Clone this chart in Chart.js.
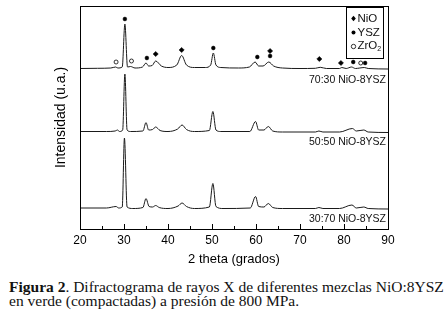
<!DOCTYPE html>
<html>
<head>
<meta charset="utf-8">
<script src="https://cdn.jsdelivr.net/npm/chart.js@4.4.1/dist/chart.umd.min.js"></script>
<style>
    body { margin: 0; background: #fff; width: 446px; height: 332px; overflow: hidden; position: relative; }
    #wrap { position: absolute; left: 0; top: 0; width: 446px; height: 270px; }
    .caption { position: absolute; left: 9px; font-family: "Liberation Serif", serif; font-size: 15.5px; line-height: 17px; color: #111; white-space: nowrap; }
</style>
</head>
<body>
<div id="wrap"><canvas id="myChart" width="446" height="270"></canvas></div>
<div class="caption" style="top:278px"><b>Figura 2</b>. Difractograma de rayos X de diferentes mezclas NiO:8YSZ</div>
<div class="caption" style="top:292px">en verde (compactadas) a presión de 800 MPa.</div>
<script>
// digitised patterns, [2theta, intensity (a.u., offset)]
var pattern7030 = [
    [20, 160.5], [24, 160.7], [27, 161], [28.1, 162], [28.6, 161], [29.6, 162], [30.2, 205], [30.8, 162],
    [31.5, 162.5], [32.5, 161], [34.2, 162], [35.0, 166], [35.6, 163], [36.4, 163.5], [37.2, 168], [38.5, 163],
    [40, 161.5], [42, 164], [43.1, 173.5], [44.2, 164], [46, 161.5], [48.5, 161.5], [49.7, 164], [50.3, 176],
    [50.9, 164], [52, 161.5], [56, 161], [58.5, 162], [59.8, 167], [60.6, 163], [61.6, 163], [62.9, 167],
    [64, 163], [66, 161], [70, 160.5], [73.5, 160.7], [74.6, 161.7], [76, 160.5], [79, 160.5], [79.5, 161.5],
    [80.5, 160.5], [81.7, 162], [82.6, 160.5], [83.6, 161], [84.6, 161.5], [85.5, 160.5], [90, 160]
];
var pattern5050 = [
    [20, 97.5], [26, 97.5], [28, 98], [28.5, 99], [29.0, 97.5], [29.7, 99], [30.2, 155], [30.7, 99],
    [31.5, 97.5], [34.3, 98], [35.0, 106.5], [35.6, 99], [36.5, 99.5], [37.2, 102], [38.2, 98.5], [40, 97.5],
    [42.2, 100], [43.2, 104], [44.2, 99.5], [46, 97.5], [49.4, 98.5], [50.2, 117.5], [50.9, 99], [52, 97.5],
    [58.6, 97.5], [59.9, 107.5], [60.6, 99], [61.8, 99], [62.8, 102.5], [63.8, 98], [66, 97], [73.5, 97],
    [74.3, 98], [75.2, 97], [79, 97], [81.9, 100.5], [82.8, 98], [84.5, 99], [85.5, 97], [90, 96.5]
];
var pattern3070 = [
    [20, 21], [26, 21], [28.2, 22.5], [28.8, 21], [29.6, 22], [30.1, 91], [30.7, 22], [32, 20.5],
    [34.3, 21.5], [35.0, 30.5], [35.7, 22.5], [36.5, 22], [37.2, 23.5], [38, 21.5], [40, 20.5], [42.3, 23],
    [43.2, 26], [44.2, 22.5], [46, 20.5], [49.4, 22], [50.2, 45.5], [50.9, 22.5], [52.5, 20.5], [58.7, 21],
    [59.9, 32.5], [60.6, 22.5], [61.8, 22], [62.8, 25.5], [63.8, 21.5], [66, 20.5], [73.5, 20.5], [74.3, 21.5],
    [75.2, 20.5], [79, 20.5], [81.8, 24], [82.8, 21], [84.5, 22], [85.5, 20.5], [90, 20]
];

// phase markers above the 70:30 pattern
var markNiO = [[37.2, 175], [43.1, 179], [63.2, 178], [74.4, 170], [79.3, 166]];
var markYSZ = [[30.2, 210], [35.2, 171], [50.3, 181], [60.3, 172], [63.2, 173], [82.1, 167], [84.8, 166]];
var markZrO2 = [[28.2, 167], [31.7, 168], [83.8, 166]];

var seriesNames = ["70:30 NiO-8YSZ", "50:50 NiO-8YSZ", "30:70 NiO-8YSZ"];
var xTicks = [20, 30, 40, 50, 60, 70, 80, 90];

function toPts(arr) {
    return arr.map(function (p) { return { x: p[0], y: p[1] }; });
}

function lineSet(arr) {
    return {
        data: toPts(arr),
        borderColor: "#1a1a1a",
        borderWidth: 1,
        pointRadius: 0,
        showLine: true,
        fill: false,
        cubicInterpolationMode: "monotone",
        order: 2
    };
}

var markerSets = [
    { label: "NiO", data: toPts(markNiO), pointStyle: "rectRot", pointRadius: 2.6, backgroundColor: "#000", borderColor: "#000", borderWidth: 0.5, order: 1 },
    { label: "YSZ", data: toPts(markYSZ), pointStyle: "circle", pointRadius: 1.9, backgroundColor: "#000", borderColor: "#000", borderWidth: 0.5, order: 1 },
    { label: "ZrO", data: toPts(markZrO2), pointStyle: "circle", pointRadius: 2, backgroundColor: "#fff", borderColor: "#000", borderWidth: 0.8, order: 1 }
];

const framePlugin = {
    id: "frame",
    afterDraw(chart) {
        const { ctx, chartArea, scales } = chart;
        const { left, right, top, bottom } = chartArea;
        ctx.save();
        ctx.strokeStyle = "#000";
        ctx.lineWidth = 1;
        ctx.strokeRect(Math.round(left) + 0.5, Math.round(top) + 0.5, Math.round(right - left), Math.round(bottom - top));
        // inward ticks on the bottom axis
        ctx.beginPath();
        for (var v = 20; v <= 90; v += 5) {
            var px = Math.round(scales.x.getPixelForValue(v)) + 0.5;
            var len = v % 10 === 0 ? 5 : 3;
            ctx.moveTo(px, Math.round(bottom));
            ctx.lineTo(px, Math.round(bottom) - len);
        }
        ctx.stroke();

        // series labels
        ctx.fillStyle = "#111";
        ctx.font = "10.5px 'Liberation Sans', Arial, sans-serif";
        ctx.textAlign = "right";
        ctx.textBaseline = "middle";
        var labelY = [80, 142, 219];
        for (var i = 0; i < seriesNames.length; i++) {
            ctx.fillText(seriesNames[i], right - 2, labelY[i]);
        }

        // legend box
        var bx = 346.5, by = 7.5, bw = 37, bh = 51;
        ctx.strokeRect(bx, by, bw, bh);
        ctx.textAlign = "left";
        ctx.font = "11.5px 'Liberation Sans', Arial, sans-serif";
        var rows = [18.5, 32.5, 45.5];
        var mx = 353.5;
        // NiO diamond
        ctx.beginPath();
        ctx.moveTo(mx, rows[0] - 2.8); ctx.lineTo(mx + 2.3, rows[0]); ctx.lineTo(mx, rows[0] + 2.8); ctx.lineTo(mx - 2.3, rows[0]);
        ctx.closePath(); ctx.fillStyle = "#000"; ctx.fill();
        // YSZ dot
        ctx.beginPath(); ctx.arc(mx, rows[1], 2, 0, Math.PI * 2); ctx.fill();
        // ZrO2 open circle
        ctx.beginPath(); ctx.arc(mx, rows[2] + 1, 2.2, 0, Math.PI * 2); ctx.lineWidth = 0.8; ctx.stroke();
        ctx.fillStyle = "#111";
        ctx.fillText("NiO", 357.5, rows[0]);
        ctx.fillText("YSZ", 357.5, rows[1]);
        ctx.fillText("ZrO", 357.5, rows[2]);
        var w = ctx.measureText("ZrO").width;
        ctx.font = "7px 'Liberation Sans', Arial, sans-serif";
        ctx.fillText("2", 357.5 + w, rows[2] + 4);
        ctx.restore();
    }
};

const config = {
    type: "scatter",
    data: {
        datasets: [lineSet(pattern7030), lineSet(pattern5050), lineSet(pattern3070)].concat(markerSets)
    },
    options: {
        responsive: false,
        animation: false,
        layout: { padding: { top: 6, right: 58, left: 0, bottom: 0 } },
        plugins: { legend: { display: false }, tooltip: { enabled: false } },
        scales: {
            x: {
                type: "linear",
                min: 20,
                max: 90,
                afterBuildTicks: (scale) => { scale.ticks = xTicks.map((v) => ({ value: v })); },
                ticks: { padding: 4, color: "#000", font: { family: "'Liberation Sans', Arial, sans-serif", size: 12 } },
                grid: { display: false, drawTicks: false },
                border: { display: false },
                title: { display: true, text: "2 theta (grados)", color: "#000", padding: { top: 0, bottom: 3 }, font: { family: "'Liberation Sans', Arial, sans-serif", size: 13 } },
                afterFit: (scale) => { scale.height = 41; }
            },
            y: {
                min: 0,
                max: 223,
                ticks: { display: false },
                grid: { display: false, drawTicks: false },
                border: { display: false },
                title: { display: true, text: "Intensidad (u.a.)", color: "#000", padding: { top: 53, bottom: 0 }, font: { family: "'Liberation Sans', Arial, sans-serif", size: 14 } },
                afterFit: (scale) => { scale.width = 80; }
            }
        }
    },
    plugins: [framePlugin]
};

const myChart = new Chart(document.getElementById("myChart"), config);
</script>
</body>
</html>
